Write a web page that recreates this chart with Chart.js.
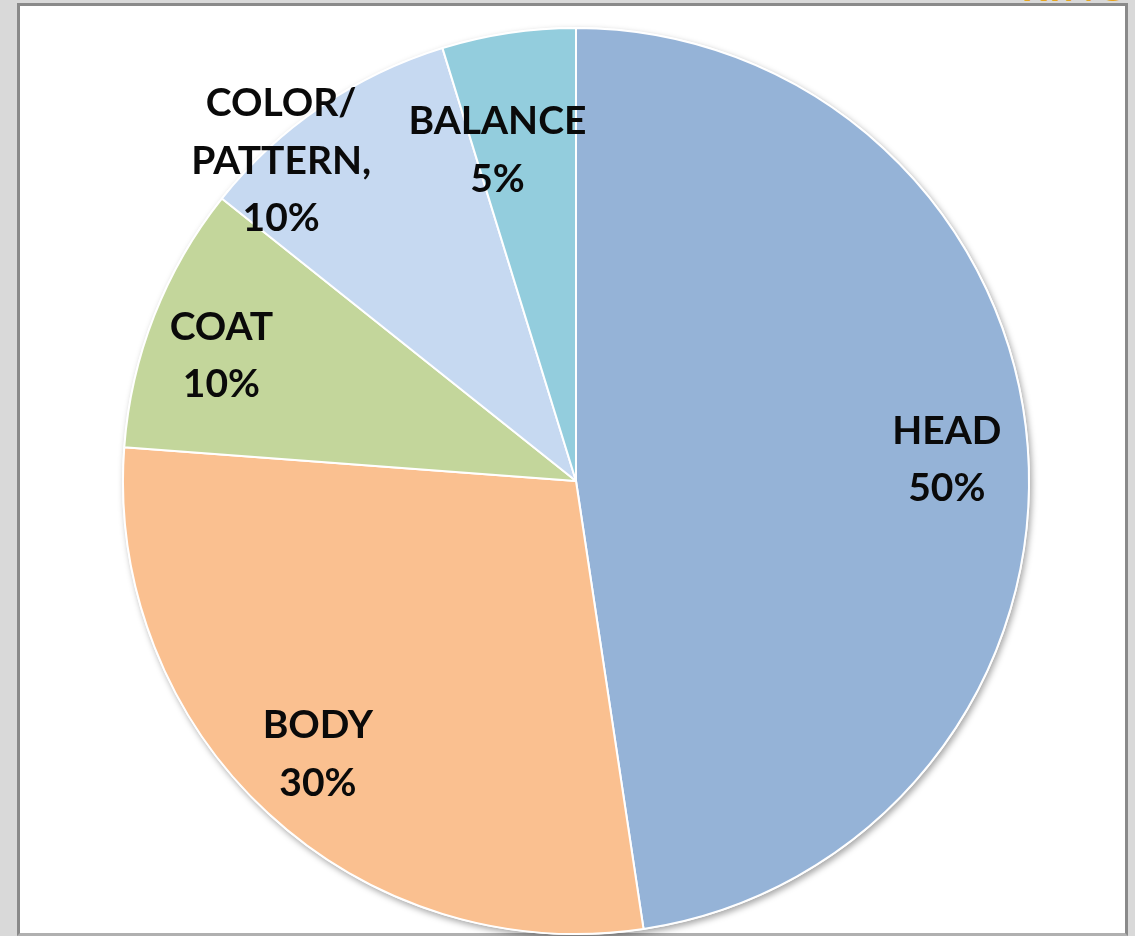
<!DOCTYPE html>
<html lang="en">
<head>
  <meta charset="UTF-8" />
  <title>Judging points</title>
  <script src="https://cdn.jsdelivr.net/npm/chart.js"></script>
  <style>
    html, body { margin: 0; padding: 0; }
    body { width: 1135px; height: 936px; background: #d9d9d9; position: relative; overflow: hidden; font-family: Lato, sans-serif; }
    #panel {
      position: absolute; left: 17px; top: 3px; width: 1111px; height: 933px;
      box-sizing: border-box; background: #fff;
      border: 3px solid #8a8a8a; border-bottom-color: #b0b0b0;
    }
    #topTitle {
      position: absolute; right: 8px; top: -33px; font-size: 40px; line-height: 38px;
      font-weight: 700; color: #e6a51e; letter-spacing: 2px;
    }
    #chartBox { position: absolute; left: 0; top: 0; width: 1135px; height: 936px; }
  </style>
</head>
<body>
  <div id="panel"></div>
  <div id="topTitle">RING</div>
  <div id="chartBox"><canvas id="pieChart"></canvas></div>

  <script>
    // data (labels show these percentages)
    const categories = ['HEAD', 'BODY', 'COAT', 'COLOR/PATTERN', 'BALANCE'];
    const labelLines = [['HEAD'], ['BODY'], ['COAT'], ['COLOR/', 'PATTERN,'], ['BALANCE']];
    const values = [50, 30, 10, 10, 5];
    const colors = ['#95b3d7', '#fac090', '#c3d69b', '#c6d9f1', '#93cddd'];

    // where each label sits: fraction of radius + angle shift (degrees)
    const labelRadius = [0.82, 0.83, 0.83, 0.96, 0.75];
    const labelShift = [1, 0.5, -2, -8.4, -4.8];

    const pieShadow = {
      id: 'pieShadow',
      beforeDatasetsDraw(chart) {
        const arc = chart.getDatasetMeta(0).data[0];
        if (!arc) return;
        const ctx = chart.ctx;
        ctx.save();
        ctx.shadowColor = 'rgba(0,0,0,0.35)';
        ctx.shadowBlur = 6;
        ctx.shadowOffsetX = 2;
        ctx.shadowOffsetY = 3;
        ctx.fillStyle = '#ffffff';
        ctx.beginPath();
        ctx.arc(arc.x, arc.y, arc.outerRadius + 1, 0, Math.PI * 2);
        ctx.fill();
        ctx.restore();
      }
    };

    const sliceLabels = {
      id: 'sliceLabels',
      afterDatasetsDraw(chart) {
        const ctx = chart.ctx;
        const arcs = chart.getDatasetMeta(0).data;
        ctx.save();
        ctx.font = 'bold 39px Lato, "Open Sans", sans-serif';
        ctx.fillStyle = '#0a0a0a';
        ctx.textAlign = 'center';
        ctx.textBaseline = 'middle';
        const lineH = 57.5;
        arcs.forEach((arc, i) => {
          const mid = (arc.startAngle + arc.endAngle) / 2 + labelShift[i] * Math.PI / 180;
          const r = arc.outerRadius * labelRadius[i];
          const cx = arc.x + Math.cos(mid) * r;
          const cy = arc.y + Math.sin(mid) * r;
          const lines = labelLines[i].concat([values[i] + '%']);
          const y0 = cy - (lines.length - 1) * lineH / 2;
          lines.forEach((t, k) => ctx.fillText(t, cx, y0 + k * lineH));
        });
        ctx.restore();
      }
    };

    new Chart(document.getElementById('pieChart').getContext('2d'), {
      type: 'pie',
      data: {
        labels: categories,
        datasets: [{
          data: values,
          backgroundColor: colors,
          borderColor: '#ffffff',
          borderWidth: 2
        }]
      },
      options: {
        responsive: true,
        maintainAspectRatio: false,
        animation: false,
        layout: { padding: { left: 122, right: 105, top: 27, bottom: 1 } },
        plugins: {
          legend: { display: false },
          tooltip: { enabled: false }
        }
      },
      plugins: [pieShadow, sliceLabels]
    });
  </script>
</body>
</html>
